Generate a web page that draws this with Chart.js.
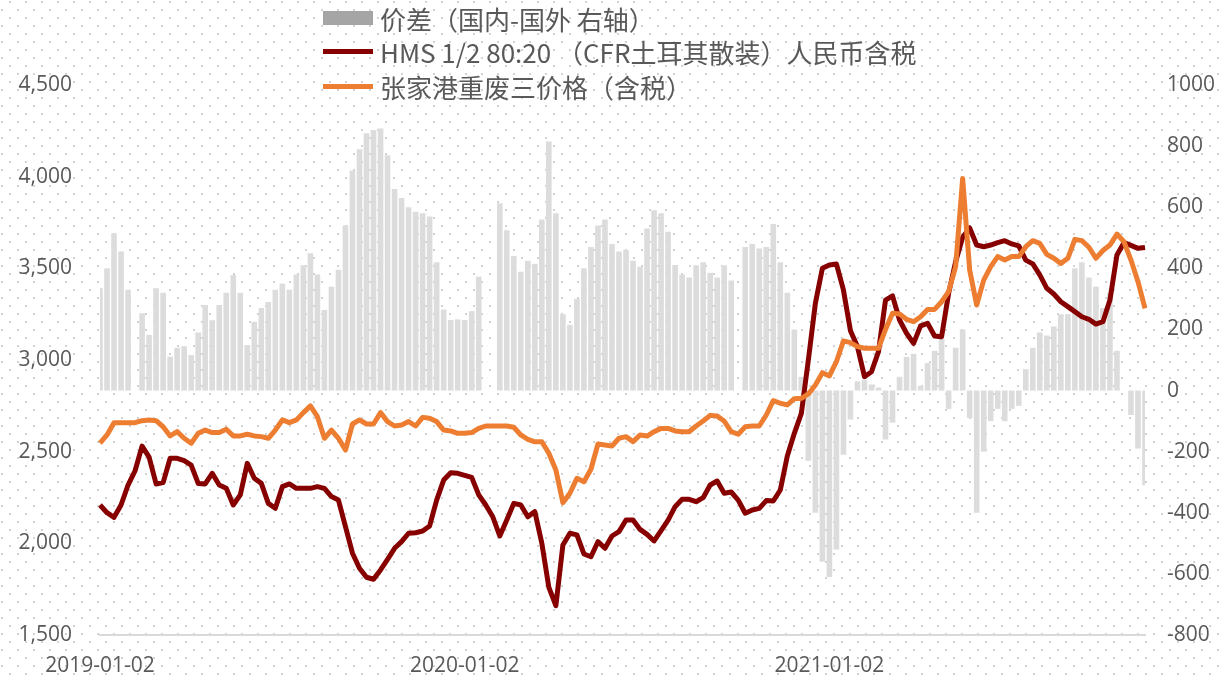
<!DOCTYPE html>
<html>
<head>
<meta charset="utf-8">
<script src="https://cdn.jsdelivr.net/npm/chart.js@4"></script>
<style>
  body { margin: 0; background: #fff; }
  #wrap { position: relative; width: 1219px; height: 677px; }
  .lg { position: absolute; left: 323px; height: 34px; display: flex; align-items: center;
        font-family: "Noto Sans CJK SC", sans-serif; font-size: 26px; color: #595959; white-space: nowrap; }
  .lg i { display: inline-block; width: 50px; margin-right: 7px; }
</style>
</head>
<body>
<div id="wrap">
  <canvas id="chart1" width="1219" height="677"></canvas>
  <div class="lg" style="top:1px"><i style="height:14px;background:#a5a5a5"></i>价差（国内-国外 右轴）</div>
  <div class="lg" style="top:34px"><i style="height:5px;background:#870000"></i>HMS 1/2 80:20 （CFR土耳其散装）人民币含税</div>
  <div class="lg" style="top:69px"><i style="height:5px;background:#ED7D31"></i>张家港重废三价格（含税）</div>
</div>
<script>
// 週ごとの日付（2019-01-02から）
var dates = [];
var d0 = new Date(Date.UTC(2019, 0, 2));
for (var k = 0; k < 150; k++) {
    var d = new Date(d0.getTime() + k * 7 * 86400000);
    dates.push(d.toISOString().slice(0, 10));
}

// x軸に表示する日付
var tickLabels = ["2019-01-02", "2020-01-02", "2021-01-02"];

// HMS 1/2 80:20 人民币含税（左軸）
var hmsPrice = [
    2209, 2167, 2142, 2209, 2318, 2396, 2530, 2470, 2324, 2331,
    2464, 2464, 2451, 2427, 2327, 2324, 2382, 2318, 2300, 2209,
    2264, 2436, 2355, 2327, 2218, 2191, 2309, 2324, 2300, 2300,
    2300, 2309, 2300, 2255, 2236, 2091, 1946, 1864, 1815, 1804,
    1855, 1913, 1973, 2009, 2055, 2058, 2067, 2095, 2236, 2345,
    2385, 2382, 2371, 2360, 2264, 2209, 2145, 2040, 2127, 2218,
    2209, 2145, 2173, 2000, 1760, 1660, 1991, 2055, 2046, 1942,
    1927, 2009, 1973, 2040, 2064, 2127, 2127, 2076, 2049, 2013,
    2069, 2127, 2200, 2240, 2240, 2227, 2249, 2318, 2340, 2273,
    2280, 2236, 2164, 2182, 2191, 2233, 2231, 2291, 2476, 2600,
    2709, 3000, 3309, 3500, 3518, 3524, 3382, 3160, 3073, 2909,
    2936, 3046, 3327, 3350, 3218, 3146, 3091, 3186, 3200, 3131,
    3127, 3364, 3536, 3669, 3720, 3627, 3618, 3627, 3640, 3651,
    3633, 3622, 3545, 3524, 3464, 3391, 3360, 3318, 3291, 3264,
    3236, 3222, 3196, 3209, 3327, 3573, 3640, 3625, 3609, 3614
];

// 张家港重废三价格（含税）（左軸）
var zjgPrice = [
    2546, 2591, 2658, 2658, 2658, 2658, 2669, 2673, 2669, 2636,
    2586, 2609, 2573, 2546, 2600, 2618, 2604, 2604, 2622, 2586,
    2586, 2595, 2586, 2582, 2573, 2618, 2673, 2658, 2673, 2713,
    2750, 2691, 2573, 2618, 2573, 2509, 2651, 2673, 2651, 2651,
    2713, 2664, 2640, 2645, 2664, 2640, 2687, 2682, 2664, 2618,
    2613, 2600, 2600, 2604, 2627, 2640, 2640, 2640, 2640, 2633,
    2591, 2567, 2554, 2554, 2491, 2400, 2222, 2273, 2355, 2336,
    2404, 2542, 2536, 2531, 2573, 2582, 2555, 2591, 2585, 2609,
    2627, 2627, 2613, 2609, 2609, 2640, 2667, 2698, 2694, 2667,
    2609, 2595, 2636, 2640, 2640, 2700, 2778, 2764, 2755, 2789,
    2791, 2815, 2864, 2931, 2913, 2991, 3104, 3095, 3073, 3064,
    3064, 3064, 3167, 3255, 3251, 3222, 3209, 3236, 3276, 3276,
    3318, 3373, 3509, 3990, 3491, 3300, 3436, 3509, 3564, 3545,
    3564, 3564, 3618, 3651, 3636, 3576, 3555, 3527, 3555, 3658,
    3651, 3615, 3555, 3597, 3627, 3687, 3645, 3545, 3427, 3282
];

// 价差（国内-国外）（右軸）
var spread = [
    335, 400, 515, 455, 330, null, 253, 182, 335, 320,
    111, 140, 145, 116, 190, 280, 230, 280, 320, 378,
    320, 149, 225, 270, 290, 330, 350, 330, 380, 410,
    449, 380, 264, 340, 395, 540, 720, 790, 842, 853,
    858, 770, 660, 630, 600, 585, 580, 570, 420, 265,
    231, 233, 231, 260, 373, null, null, 613, 525, 440,
    389, 425, 415, 560, 815, 580, 250, 215, 300, 400,
    470, 540, 560, 480, 455, 460, 425, 405, 530, 590,
    580, 520, 411, 380, 370, 410, 420, 385, 370, 410,
    360, null, 470, 480, 465, 470, 545, 420, 320, 200,
    45, -230, -400, -560, -610, -520, -210, -95, 30, 35,
    20, 10, -160, -105, 45, 110, 120, 15, 90, 130,
    170, -60, 140, 200, -90, -400, -200, -100, -60, -100,
    -60, -50, 70, 140, 190, 180, 210, 250, 250, 400,
    420, 370, 340, 270, 320, 130, 0, -80, -190, -310
];

// 目盛りを出す位置（一番近い日付）
var tickIdx = tickLabels.map(function (t) {
    var target = Date.parse(t), best = 0;
    dates.forEach(function (s, i) {
        if (Math.abs(Date.parse(s) - target) < Math.abs(Date.parse(dates[best]) - target)) best = i;
    });
    return best;
});

// 背景のドット
var dotBackground = {
    id: 'dotBackground',
    beforeDraw: function (chart) {
        var c = chart.ctx;
        c.save();
        c.fillStyle = '#ffffff';
        c.fillRect(0, 0, chart.width, chart.height);
        c.fillStyle = '#d3d3d3';
        for (var r = 0, y = 1; y < chart.height; y += 8, r++) {
            for (var x = (r % 2 === 0 ? 9 : 1); x < chart.width; x += 16) {
                c.fillRect(x, y, 2, 2);
            }
        }
        c.restore();
    }
};

var tickFont = { family: 'Open Sans', size: 21 };

var ctx1 = document.getElementById("chart1");
var myChart1 = new Chart(ctx1, {
    type: 'bar',
    data: {
        labels: dates,
        datasets: [
            {
                type: 'line',
                label: "张家港重废三价格（含税）",
                data: zjgPrice,
                borderColor: "#ED7D31",
                borderWidth: 5,
                borderJoinStyle: 'round',
                pointRadius: 0,
                yAxisID: 'y',
                order: 1
            },
            {
                type: 'line',
                label: "HMS 1/2 80:20 （CFR土耳其散装）人民币含税",
                data: hmsPrice,
                borderColor: "#870000",
                borderWidth: 5,
                borderJoinStyle: 'round',
                pointRadius: 0,
                yAxisID: 'y',
                order: 2
            },
            {
                type: 'bar',
                label: "价差（国内-国外 右轴）",
                data: spread,
                backgroundColor: "#dcdcdc",
                barPercentage: 0.8,
                categoryPercentage: 1,
                yAxisID: 'y1',
                order: 3
            }
        ]
    },
    options: {
        responsive: false,
        animation: false,
        layout: { padding: { top: 85, left: 0, right: 0, bottom: 0 } },
        plugins: {
            legend: { display: false },
            tooltip: { enabled: false }
        },
        scales: {
            x: {
                offset: false,
                grid: { display: false, drawTicks: false },
                border: { display: true, color: '#d9d9d9', width: 2 },
                ticks: {
                    autoSkip: false,
                    maxRotation: 0,
                    padding: 18,
                    color: '#595959',
                    font: tickFont,
                    callback: function (v, i) {
                        var n = tickIdx.indexOf(i);
                        return n >= 0 ? tickLabels[n] : null;
                    }
                },
                afterFit: function (s) { s.height = 42; }
            },
            y: {
                position: 'left',
                min: 1500,
                max: 4500,
                grid: { display: false, drawTicks: false },
                border: { display: false },
                ticks: {
                    stepSize: 500,
                    padding: 28,
                    color: '#595959',
                    font: tickFont,
                    callback: function (v) { return v.toLocaleString('en-US'); }
                },
                afterFit: function (s) { s.width = 100; }
            },
            y1: {
                position: 'right',
                min: -800,
                max: 1000,
                grid: { display: false, drawTicks: false },
                border: { display: false },
                ticks: {
                    stepSize: 200,
                    padding: 22,
                    color: '#595959',
                    font: tickFont,
                    callback: function (v) { return String(v); }
                },
                afterFit: function (s) { s.width = 74; }
            }
        }
    },
    plugins: [dotBackground]
});
</script>
</body>
</html>
